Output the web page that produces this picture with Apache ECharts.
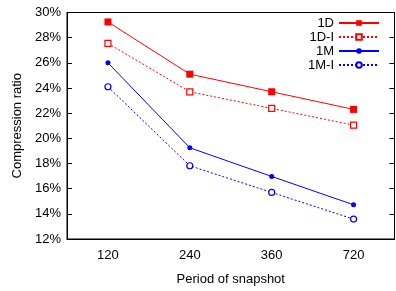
<!DOCTYPE html>
<html>
<head>
<meta charset="utf-8">
<script src="https://cdn.jsdelivr.net/npm/echarts@6/dist/echarts.min.js"></script>
<style>
html, body { margin: 0; padding: 0; background: #fff; }
#main { width: 396px; height: 291px; }
</style>
</head>
<body>
<div id="main"></div>
<script>
var periods = ['120', '240', '360', '720'];
var d1 = [29.25, 25.1, 23.7, 22.3];
var d1i = [27.55, 23.7, 22.38, 21.05];
var m1 = [26.0, 19.25, 16.97, 14.72];
var m1i = [24.1, 17.82, 15.7, 13.58];

var font = 'Liberation Sans, Arial, sans-serif';
var chart = echarts.init(document.getElementById('main'));

function mkSeries(name, data, color, dashed, symbol, size, hollow) {
	return {
		name: name,
		type: 'line',
		data: data,
		symbol: symbol,
		symbolSize: size,
		showAllSymbol: true,
		animation: false,
		lineStyle: { color: color, width: 1, type: dashed ? [2, 2] : 'solid' },
		itemStyle: {
			color: hollow ? '#fff' : color,
			borderColor: color,
			borderWidth: hollow ? 1.2 : 0
		}
	};
}

chart.setOption({
	animation: false,
	grid: { left: 67, top: 12.5, right: 1.5, bottom: 49, show: true, borderColor: '#000', borderWidth: 1 },
	legend: {
		orient: 'vertical',
		right: 16,
		top: 16,
		padding: 0,
		align: 'right',
		itemWidth: 40,
		itemHeight: 7,
		itemGap: 0,
		textStyle: { fontFamily: font, fontSize: 13, color: '#000', lineHeight: 14 },
		data: ['1D', '1D-I', '1M', '1M-I']
	},
	xAxis: [{
		type: 'category',
		data: periods,
		boundaryGap: true,
		name: 'Period of snapshot',
		nameLocation: 'middle',
		nameGap: 34,
		nameTextStyle: { fontFamily: font, fontSize: 13, color: '#000' },
		axisLine: { lineStyle: { color: '#000' } },
		axisTick: { alignWithLabel: true, inside: true, length: 5, lineStyle: { color: '#000' } },
		axisLabel: { fontFamily: font, fontSize: 13, color: '#000', margin: 10 }
	}, {
		type: 'category',
		data: periods,
		position: 'top',
		boundaryGap: true,
		axisLine: { lineStyle: { color: '#000' } },
		axisTick: { alignWithLabel: true, inside: true, length: 5, lineStyle: { color: '#000' } },
		axisLabel: { show: false }
	}],
	yAxis: [{
		type: 'value',
		min: 12,
		max: 30,
		interval: 2,
		name: 'Compression ratio',
		nameLocation: 'middle',
		nameGap: 43,
		nameTextStyle: { fontFamily: font, fontSize: 13, color: '#000' },
		axisLine: { show: true, lineStyle: { color: '#000' } },
		axisTick: { show: true, inside: true, length: 5, lineStyle: { color: '#000' } },
		splitLine: { show: false },
		axisLabel: { fontFamily: font, fontSize: 13, color: '#000', margin: 6, formatter: '{value}%' }
	}, {
		type: 'value',
		min: 12,
		max: 30,
		interval: 2,
		position: 'right',
		axisLine: { show: true, lineStyle: { color: '#000' } },
		axisTick: { show: true, inside: true, length: 5, lineStyle: { color: '#000' } },
		splitLine: { show: false },
		axisLabel: { show: false }
	}],
	series: [
		mkSeries('1D', d1, '#ff0000', false, 'rect', 7, false),
		mkSeries('1D-I', d1i, '#ff0000', true, 'rect', 6, true),
		mkSeries('1M', m1, '#0000ff', false, 'circle', 5, false),
		mkSeries('1M-I', m1i, '#0000ff', true, 'circle', 6, true)
	]
});
window.onresize = chart.resize;
</script>
</body>
</html>
